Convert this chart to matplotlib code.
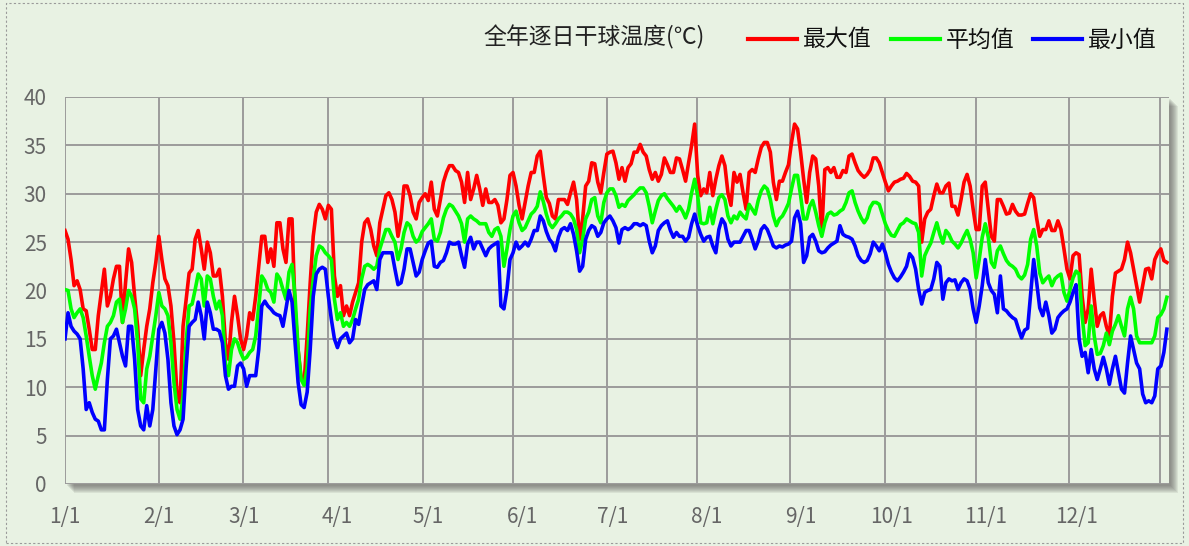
import numpy as np
import matplotlib
matplotlib.use("Agg")
import matplotlib.pyplot as plt
from matplotlib.patches import Rectangle
from matplotlib.lines import Line2D

# ---------------- data (daily dry-bulb temperature, deg C) ----------------
title = "全年逐日干球温度(℃)"
series_names = ["最大值", "平均值", "最小值"]
month_labels = ["1/1", "2/1", "3/1", "4/1", "5/1", "6/1", "7/1", "8/1", "9/1", "10/1", "11/1", "12/1"]
month_start_days = [0, 31, 59, 90, 120, 151, 181, 212, 243, 273, 304, 334]
grid_days = [0, 31.05, 58.8, 86.9, 118.3, 148.0, 179.1, 208.8, 239.5, 270.9, 301.0, 331.7, 361.7]
y_ticks = [0, 5, 10, 15, 20, 25, 30, 35, 40]

t_max = [
    26.2, 25.3, 23.2, 20.5, 21.0, 20.1, 18.1, 17.9, 16.0, 13.9, 13.9, 17.4, 19.8, 22.2, 18.4, 19.4, 21.2, 22.5, 22.5, 16.7,
    20.8, 24.3, 22.9, 19.4, 16.3, 11.2, 13.9, 16.3, 18.1, 20.8, 22.9, 25.6, 23.2, 21.2, 20.5, 18.4, 14.6, 9.4, 8.4, 16.3, 19.0,
    21.8, 22.2, 25.3, 26.2, 24.3, 22.2, 25.0, 23.9, 21.5, 21.5, 22.2, 19.4, 14.6, 12.9, 16.7, 19.4, 17.4, 15.0, 13.9, 15.3,
    17.7, 17.0, 19.4, 22.5, 25.6, 25.6, 22.9, 24.3, 22.5, 27.0, 27.0, 24.3, 22.9, 27.4, 27.4, 18.1, 13.9,
    11.0, 10.5, 15.3,
    20.8, 25.6, 28.1, 28.9, 28.4, 27.4, 28.8, 28.4, 21.5, 19.4, 20.5, 17.4, 18.4, 17.4, 18.8, 19.8, 20.8, 25.0, 27.0, 27.4,
    26.3, 24.6, 23.6, 27.0, 28.4, 29.8, 30.1, 29.4, 28.1, 25.6, 27.4, 30.8, 30.8, 29.8, 28.1, 27.4, 29.1,
    29.6, 30.0, 29.3,
    31.2, 28.4, 27.7, 29.4, 31.2, 32.2, 32.9, 32.9, 32.4, 32.2, 31.2, 29.1, 32.2, 29.4, 30.5, 31.9, 30.5, 28.8, 30.5, 29.1,
    29.1, 29.4, 28.8, 27.0, 27.4, 29.4, 31.9, 32.2, 30.8, 28.8, 27.4, 29.1, 30.8, 32.2, 32.2, 33.9,
    34.4, 31.9, 29.6, 29.0,
    27.7, 27.4, 29.4, 29.4, 29.4, 28.9, 30.1, 31.2, 29.4, 25.3, 27.4, 30.8, 31.3, 33.2, 33.1, 31.2, 30.1, 32.2, 34.1, 34.3,
    34.4, 33.2, 31.5, 32.7, 31.3, 32.7, 33.1, 34.3, 34.3, 35.1, 34.3, 33.9, 32.5, 31.5, 32.2, 31.3,
    32.0, 33.7, 33.0,
    32.2, 32.2, 33.7, 33.6, 32.5, 31.3, 33.2, 35.0, 37.2, 31.9, 29.8, 30.5, 30.1, 32.2, 29.8, 31.5, 32.9, 33.9, 32.9, 30.1,
    28.8, 32.2, 31.2, 32.0, 30.1, 28.4, 32.2, 32.5, 32.2, 33.6, 34.8, 35.3, 35.3, 34.3, 31.2, 29.4, 31.3,
    31.3, 32.2, 33.0,
    35.3, 37.2, 36.7, 34.3, 31.5, 29.1, 32.2, 33.9, 33.6, 30.8, 26.0, 32.5, 32.7, 32.2, 32.7, 31.7, 31.7, 32.4, 32.2, 33.9,
    34.1, 33.2, 32.4, 32.0, 31.7, 32.0, 32.5, 33.7, 33.7, 33.2, 32.2, 31.2, 30.3, 30.8, 31.2, 31.3,
    31.5, 31.6, 32.1, 31.8,
    31.3, 31.2, 30.8, 25.0, 27.4, 28.1, 28.4, 29.8, 31.0, 30.1, 30.1, 30.8, 31.1, 28.7, 28.7, 27.8, 29.4, 31.2, 32.0, 30.8,
    28.4, 26.3, 26.3, 30.8, 31.2, 28.4, 25.6, 25.1, 29.4, 29.4, 28.7, 27.9, 28.0, 28.9, 28.2, 27.8,
    27.8, 27.9, 29.0, 30.0,
    29.6, 27.4, 25.6, 26.3, 26.3, 27.2, 26.2, 26.2, 27.2, 26.3, 24.3, 22.2, 21.2, 23.6, 23.9, 23.7, 19.4, 16.7, 18.1, 22.2,
    19.1, 16.3, 17.4, 17.7, 16.3, 15.3, 19.4, 21.8, 22.0, 22.2, 23.2, 25.0, 23.9, 22.2, 20.5, 18.8, 20.5, 22.2, 22.3, 21.2,
    23.2, 23.9, 24.3, 23.1, 22.9,
]

t_avg = [
    20.1, 20.0, 18.1, 17.2, 17.7, 18.1, 17.2, 15.3, 13.2, 11.2, 9.8, 11.2, 12.5, 14.6, 16.3, 16.7, 17.4, 18.8, 19.1, 16.7,
    18.1, 20.0, 19.4, 18.1, 14.6, 8.8, 8.4, 11.9, 13.2, 15.3, 17.4, 19.8, 18.4, 18.1, 17.4, 14.6, 10.5, 7.7, 6.7, 9.1, 14.6,
    18.4, 18.6, 20.1, 21.7, 21.2, 18.4, 21.5, 21.2, 19.4, 18.1, 18.9, 17.4, 12.5, 11.2, 13.9, 15.0, 14.6, 13.6, 12.9, 13.1,
    13.6, 13.9, 15.3, 18.4, 21.5, 21.0, 20.1, 19.8, 18.8, 21.7, 21.2, 20.1, 19.1, 21.9, 22.7, 19.4, 13.9, 10.8,
    10.2, 12.0,
    18.1, 21.2, 23.6, 24.6, 24.4, 23.9, 23.6, 23.2, 19.1, 17.0, 17.7, 16.3, 16.7, 16.3, 17.0, 18.1, 19.1, 21.2, 22.5, 22.7,
    22.5, 22.2, 22.5, 24.3, 25.3, 26.3, 26.3, 25.6, 25.0, 23.2, 24.3, 26.0, 27.0, 26.7, 25.6, 25.0, 25.3,
    26.1, 26.5, 26.9,
    27.4, 25.3, 25.1, 26.0, 27.5, 28.4, 28.9, 28.7, 28.2, 27.7, 26.9, 25.0, 27.4, 27.7, 27.4, 27.2, 26.9, 26.9, 26.9, 26.0,
    25.6, 26.3, 26.5, 25.6, 22.5, 24.3, 26.3, 27.7, 28.2, 27.0, 26.2, 26.5, 27.2, 27.9, 28.2, 28.7,
    30.2, 29.2, 27.9, 26.9,
    26.5, 26.9, 27.4, 27.7, 28.1, 28.1, 27.9, 27.4, 26.3, 23.9, 25.3, 27.4, 28.1, 29.4, 29.6, 27.7, 27.0, 29.1, 30.1, 30.5,
    30.5, 29.8, 28.6, 28.9, 28.7, 29.3, 29.6, 29.9, 30.3, 30.6, 30.6, 30.1, 28.7, 27.0, 28.2, 29.3,
    29.8, 30.0, 29.5,
    29.1, 28.7, 28.2, 28.7, 28.2, 27.5, 28.4, 30.1, 31.5, 29.8, 27.0, 26.9, 27.0, 28.6, 26.9, 28.4, 29.6, 29.9, 29.4, 27.7,
    27.0, 27.7, 27.4, 28.1, 27.7, 27.4, 28.9, 28.4, 27.9, 29.3, 30.3, 30.8, 30.5, 29.4, 27.7, 26.7, 27.4,
    27.7, 28.3, 29.0,
    30.5, 31.9, 31.9, 29.8, 27.4, 27.4, 28.7, 29.3, 28.1, 26.7, 25.6, 27.0, 27.9, 28.1, 27.8, 27.9, 28.2, 28.4, 29.1, 30.1,
    30.3, 29.1, 28.2, 27.5, 27.0, 27.5, 28.6, 29.1, 29.1, 28.9, 27.9, 26.9, 26.2, 25.7, 25.6, 26.2,
    26.8, 27.0, 27.4, 27.2,
    27.0, 26.9, 26.0, 21.5, 23.6, 24.3, 24.9, 26.0, 27.0, 25.8, 24.9, 26.2, 25.8, 25.1, 24.8, 24.4, 24.9, 25.6, 26.2, 25.3,
    23.9, 21.3, 23.2, 25.5, 26.9, 25.5, 22.9, 22.4, 24.1, 24.6, 23.8, 23.1, 22.7, 22.5, 22.2, 21.5,
    21.2, 21.6, 22.7, 25.3,
    26.3, 24.6, 21.8, 20.8, 21.2, 21.5, 20.5, 21.2, 21.5, 21.7, 19.8, 18.9, 20.1, 21.3, 22.0, 21.7, 17.4, 14.3, 14.6, 18.4,
    15.3, 13.4, 13.5, 14.3, 15.6, 14.4, 15.8, 16.5, 17.4, 16.3, 15.3, 18.1, 19.3, 18.1, 15.3, 14.6, 14.6, 14.6, 14.6, 14.6,
    15.3, 17.2, 17.5, 18.1, 19.3,
]

t_min = [
    15.0, 17.7, 16.3, 15.8, 15.5, 15.0, 11.9, 7.7, 8.4, 7.4, 6.7, 6.5, 5.6, 5.6, 10.8, 15.0, 15.3, 16.0, 14.6, 13.2,
    12.2, 16.3, 16.3, 12.9, 7.7, 6.0, 5.6, 8.1, 6.0, 7.7, 11.9, 16.0, 16.7, 15.6, 12.9, 8.4, 6.0, 5.1, 5.6, 6.7, 12.0,
    16.3, 16.7, 17.0, 18.8, 17.4, 15.0, 18.8, 17.7, 16.0, 16.0, 15.8, 14.6, 11.2, 9.8, 10.1, 10.1, 12.2, 12.5, 11.9, 10.1,
    11.2, 11.2, 11.2, 13.9, 18.4, 18.9, 18.4, 18.1, 17.7, 17.5, 17.4, 16.3, 18.1, 20.0, 18.8, 14.6, 10.5,
    8.2, 7.9, 9.5,
    13.9, 19.4, 21.7, 22.2, 22.4, 22.2, 19.4, 17.0, 15.0, 14.1, 15.0, 15.3, 15.6, 14.6, 15.0, 17.0, 16.5, 18.4, 20.1, 20.6,
    20.8, 21.0, 20.1, 23.2, 23.9, 23.9, 23.9, 23.9, 22.2, 20.6, 20.8, 22.2, 24.3, 24.3, 22.9, 21.5, 21.9,
    23.2, 24.1, 24.9,
    25.1, 22.5, 22.4, 22.9, 23.1, 23.9, 25.0, 24.8, 24.8, 25.0, 23.6, 22.4, 24.8, 25.5, 24.3, 25.0, 25.0, 24.3, 23.6, 24.3,
    24.6, 24.8, 25.0, 18.4, 18.1, 20.1, 23.2, 23.9, 25.0, 24.3, 24.6, 25.0, 24.6, 25.3, 26.2, 26.2,
    27.7, 27.2, 26.1, 25.3,
    24.9, 24.1, 25.5, 26.3, 26.5, 26.2, 26.9, 25.8, 24.1, 22.0, 22.5, 25.3, 26.2, 26.7, 26.5, 25.6, 26.0, 27.0, 27.4, 27.7,
    27.2, 26.5, 24.9, 26.3, 26.5, 26.3, 26.5, 26.9, 26.9, 26.7, 26.9, 26.7, 25.1, 23.9, 24.6, 26.2,
    26.7, 27.0, 27.2,
    26.2, 25.5, 26.0, 25.6, 25.6, 25.1, 25.5, 26.9, 27.9, 26.7, 25.8, 25.1, 25.5, 25.6, 24.6, 23.9, 26.3, 27.4, 26.9, 25.3,
    24.6, 25.0, 25.0, 25.0, 25.6, 26.2, 26.2, 25.3, 24.3, 25.1, 26.3, 26.7, 26.3, 25.5, 24.6, 24.4, 24.6,
    24.5, 24.7, 24.8,
    25.1, 27.5, 28.2, 26.9, 22.9, 23.6, 25.5, 25.8, 25.1, 24.1, 23.9, 24.0, 24.4, 24.7, 24.9, 25.1, 26.7, 25.8, 25.6, 25.5,
    25.3, 24.6, 23.6, 23.1, 22.9, 23.1, 23.8, 25.0, 24.6, 24.1, 24.8, 23.9, 22.7, 21.9, 21.3, 21.0,
    21.4, 21.9, 22.5, 23.8,
    23.4, 22.2, 20.1, 18.6, 19.8, 20.0, 20.1, 21.2, 22.9, 22.5, 19.1, 20.8, 21.2, 21.0, 21.1, 20.1, 20.8, 21.2, 21.0, 20.1,
    18.1, 16.7, 18.4, 20.5, 23.2, 20.8, 20.0, 19.6, 17.7, 21.5, 18.1, 17.9, 17.5, 17.2, 17.0, 16.0,
    15.1, 15.9, 16.1, 19.7,
    23.2, 20.8, 18.2, 17.4, 18.8, 17.4, 15.6, 16.0, 17.2, 17.6, 17.9, 18.1, 18.8, 19.8, 20.6, 15.0, 13.2, 13.6, 11.5, 13.9,
    11.9, 10.8, 11.9, 13.1, 11.9, 10.3, 11.9, 13.2, 11.5, 9.8, 9.4, 12.5, 15.3, 13.9, 12.5, 11.9, 9.3, 8.4, 8.6, 8.4,
    9.1, 11.9, 12.2, 13.6, 16.0,
]

series_colors = ["#ff0000", "#00ff00", "#0000ff"]

# ---------------- figure ----------------
W, H = 1189, 546
fig = plt.figure(figsize=(W / 100, H / 100), dpi=100)
bg = "#e8f2e3"
fig.patch.set_facecolor(bg)

def fx(px):
    return px / W

def fy(py):
    return 1 - py / H

AX_L, AX_R, AX_T, AX_B = 65, 1169, 97, 484

# outer dashed border
fig.add_artist(Rectangle((fx(6), fy(543)), fx(1183 - 6), (543 - 3) / H, transform=fig.transFigure,
                         fill=False, edgecolor="#9a9a9a", lw=0.8, ls=(0, (2, 2)), zorder=-5))

# drop shadow of the plot area
for s in range(2, 10):
    fig.add_artist(Rectangle((fx(AX_L + s), fy(AX_B + s)), (AX_R - AX_L) / W, (AX_B - AX_T) / H,
                             transform=fig.transFigure, facecolor="#5a5a5a", edgecolor="none",
                             alpha=0.11, zorder=-2))

ax = fig.add_axes([fx(AX_L), fy(AX_B), (AX_R - AX_L) / W, (AX_B - AX_T) / H])
ax.set_facecolor(bg)
ax.set_zorder(1)
for sp in ax.spines.values():
    sp.set_visible(False)

ax.set_xlim(0, 364.7)
ax.set_ylim(0, 40)

grid_c = "#9b9b9b"
for yv in y_ticks:
    ax.axhline(yv, color=grid_c, lw=1.4, zorder=1)
for d in grid_days:
    ax.axvline(d, color=grid_c, lw=1.4, zorder=1)

for vals, col in zip([t_max, t_avg, t_min], series_colors):
    ax.plot(np.arange(len(vals)), vals, color=col, lw=2.6, zorder=3, solid_joinstyle="round")

tick_font = ["Noto Sans CJK SC", "DejaVu Sans"]
ax.set_xticks(month_start_days)
ax.set_xticklabels(month_labels, fontsize=15, color="#666666", family=tick_font)
ax.set_yticks(y_ticks)
ax.set_yticklabels([str(v) for v in y_ticks], fontsize=15, color="#666666", family=tick_font)
ax.tick_params(axis="x", length=0, pad=16)
ax.tick_params(axis="y", length=0, pad=13)

# title + legend (top right)
cjk = ["Noto Sans CJK SC", "DejaVu Sans"]
fig.text(fx(483), fy(37), title, fontsize=16.5, family=cjk, color="#222222", va="center", ha="left")
leg_x = [(748, 797, 803), (891, 940, 946), (1033, 1082, 1088)]
for (x0, x1, xt), name, col in zip(leg_x, series_names, series_colors):
    fig.add_artist(Line2D([fx(x0), fx(x1)], [fy(39), fy(39)], transform=fig.transFigure, color=col, lw=3.0))
    fig.text(fx(xt), fy(40), name, fontsize=16.5, family=cjk, color="#111111", va="center", ha="left")

fig.savefig("out.png", dpi=100, facecolor=bg)
